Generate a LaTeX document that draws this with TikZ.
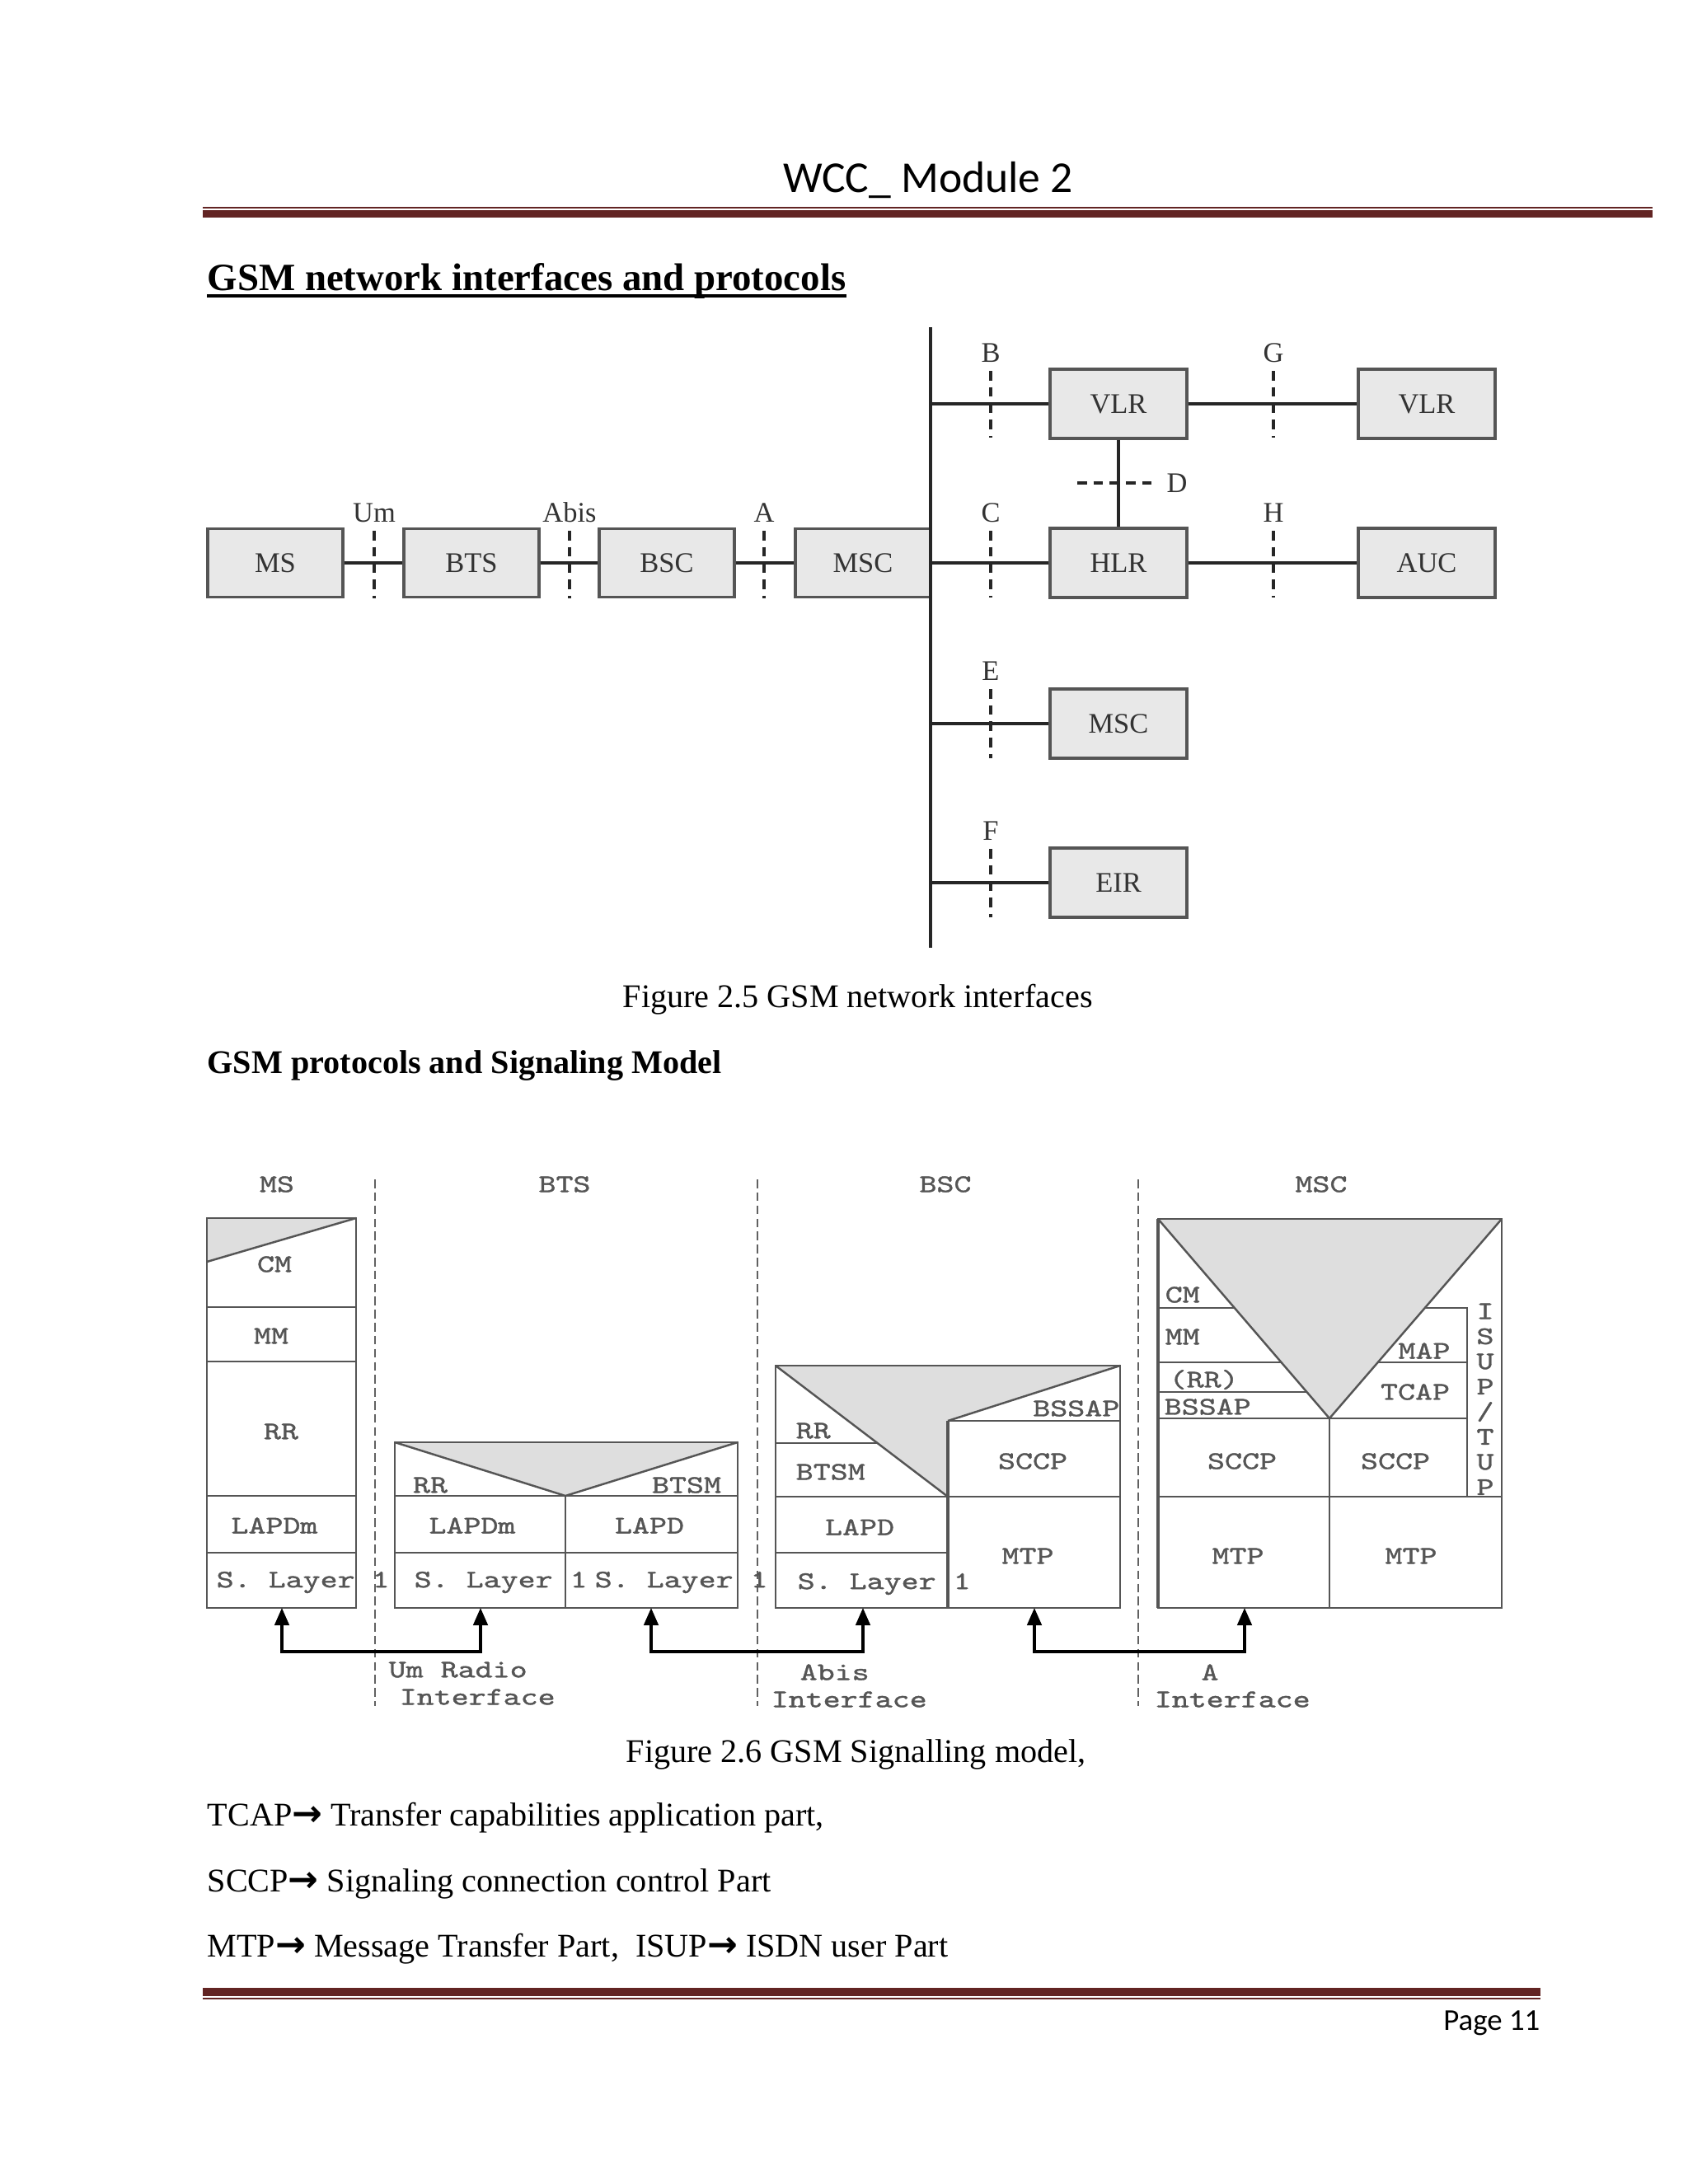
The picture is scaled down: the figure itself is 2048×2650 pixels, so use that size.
\documentclass[tikz,border=0pt]{standalone}
\usepackage{fontspec}
\setmainfont{Liberation Serif}
\newfontfamily\calib{Carlito}
\newfontfamily\arrowfont{DejaVu Sans}
\newfontfamily\sigfont[Extension=.otf,FakeStretch=1.3,FakeBold=1.2]{lmmono10-regular}
\usetikzlibrary{arrows.meta,calc}
\definecolor{rulered}{HTML}{622423}
\definecolor{boxfill}{HTML}{E8E8E8}
\definecolor{boxline}{HTML}{555555}
\definecolor{shadegray}{HTML}{DEDEDE}
\definecolor{siggray}{HTML}{555555}
\tikzset{
  netbox/.style={draw=boxline, fill=boxfill, line width=0.9pt, minimum width=1.64cm, minimum height=0.83cm, inner sep=0pt, font=\fontsize{9.8}{10}\selectfont, text=black!80},
  netboxw/.style={netbox, minimum width=1.66cm, minimum height=0.84cm},
  conn/.style={draw=black!85, line width=1.1pt},
  ifmark/.style={draw=black!85, line width=1.1pt, dash pattern=on 3.3pt off 2.3pt},
  iflabel/.style={font=\fontsize{9.8}{10}\selectfont, text=black!80, inner sep=0pt},
  sepline/.style={draw=black!62, line width=0.8pt, dash pattern=on 3pt off 1.5pt},
  stackline/.style={draw=siggray, line width=0.7pt},
  siglabel/.style={font=\sigfont\fontsize{8.75}{9}\selectfont, text=siggray, inner sep=0pt},
  sigarrow/.style={draw=black, line width=0.9pt, {Triangle[width=5pt,length=6pt]}-{Triangle[width=5pt,length=6pt]}},
  bodytext/.style={font=\fontsize{11.42}{13}\selectfont, inner sep=0pt, anchor=base west},
}
\newcommand{\rarr}{{\arrowfont\bfseries\fontsize{12.5}{12}\selectfont →}}
\begin{document}
\begin{tikzpicture}[x=0.01cm, y=-0.01cm]
\useasboundingbox (0,0) rectangle (2048,2650);
\fill[white] (0,0) rectangle (2048,2650);

% ---------- header ----------
\node[font=\calib\fontsize{15.23}{17}\selectfont, inner sep=0pt, anchor=base] (hdr) at (1126,233) {WCC\_ Module 2};
\fill[rulered] (246,250.5) rectangle (2005,252.5);
\fill[rulered] (246,255) rectangle (2005,264);

% ---------- heading ----------
\node[font=\bfseries\fontsize{13.32}{15}\selectfont, inner sep=0pt, anchor=base west] (h1) at (251,352) {GSM network interfaces and protocols};
\draw[line width=0.95pt] ($(h1.base west)+(0,7)$) -- ($(h1.base east)+(0,7)$);

% ---------- Figure 2.5 ----------
\node[netbox] (ms) at (334,683) {MS};
\node[netbox] (bts) at (572,683) {BTS};
\node[netbox] (bsc) at (809,683) {BSC};
\node[netbox] (msc) at (1047,683) {MSC};
\node[netboxw] (vlr) at (1357,490) {VLR};
\node[netboxw] (vlr2) at (1731,490) {VLR};
\node[netboxw] (hlr) at (1357,683) {HLR};
\node[netboxw] (auc) at (1731,683) {AUC};
\node[netboxw] (msc2) at (1357,878) {MSC};
\node[netboxw] (eir) at (1357,1071) {EIR};

\coordinate (bustop) at (1129,397);
\coordinate (busbot) at (1129,1150);
\draw[conn] (bustop) -- (busbot);

\draw[conn] (ms.east) -- (bts.west);
\draw[conn] (bts.east) -- (bsc.west);
\draw[conn] (bsc.east) -- (msc.west);
\draw[conn] (vlr.west) -- (vlr.west -| bustop);
\draw[conn] (hlr.west) -- (hlr.west -| bustop);
\draw[conn] (msc2.west) -- (msc2.west -| bustop);
\draw[conn] (eir.west) -- (eir.west -| bustop);
\draw[conn] (vlr.east) -- (vlr2.west);
\draw[conn] (hlr.east) -- (auc.west);
\draw[conn] (vlr.south) -- (hlr.north);

% interface marks
\foreach \nm/\lab/\x/\ya/\yb in {um/Um/454/644/726, abis/Abis/691/644/726, ai/A/927/644/726,
  ib/B/1202/450/531, ig/G/1545/450/531, ic/C/1202/644/725, ih/H/1545/644/725,
  ie/E/1202/836/920, iff/F/1202/1030/1113}{
  \draw[ifmark] (\x,\ya) -- (\x,\yb);
  \node[iflabel] (\nm) at (\x,\ya-22) {\lab};
}
\draw[ifmark] (1307,586) -- (1404,586);
\node[iflabel] (id) at (1428,586) {D};

\node[bodytext] (cap1) at (755,1222) {Figure 2.5 GSM network interfaces};
\node[bodytext, font=\bfseries\fontsize{11.42}{13}\selectfont] (h2) at (251,1302) {GSM protocols and Signaling Model};

% ---------- Figure 2.6 ----------
\draw[sepline] (455,1431) -- (455,2070);
\draw[sepline] (919,1431) -- (919,2070);
\draw[sepline] (1381,1431) -- (1381,2070);

\node[siglabel] (tms) at (336,1437) {MS};
\node[siglabel] (tbts) at (685,1437) {BTS};
\node[siglabel] (tbsc) at (1147,1437) {BSC};
\node[siglabel] (tmsc) at (1603,1437) {MSC};

% MS stack
\fill[shadegray] (251,1478) -- (432,1478) -- (251,1531) -- cycle;
\draw[stackline] (251,1531) -- (432,1478);
\draw[stackline] (251,1478) rectangle (432,1951);
\draw[stackline] (251,1586) -- (432,1586);
\draw[stackline] (251,1652) -- (432,1652);
\draw[stackline] (251,1815) -- (432,1815);
\draw[stackline] (251,1884) -- (432,1884);
\node[siglabel] (mscm) at (333,1534) {CM};
\node[siglabel] (msmm) at (329,1621) {MM};
\node[siglabel] (msrr) at (341,1737) {RR};
\node[siglabel] (mslapdm) at (333,1851) {LAPDm};
\node[siglabel, anchor=west] (msl1) at (262,1920) {S. Layer 1};

% BTS stack
\fill[shadegray] (479,1750) -- (895,1750) -- (686,1815) -- cycle;
\draw[stackline] (479,1750) -- (686,1815) -- (895,1750);
\draw[stackline] (479,1750) rectangle (895,1951);
\draw[stackline] (479,1815) -- (895,1815);
\draw[stackline] (686,1815) -- (686,1951);
\draw[stackline] (479,1884) -- (895,1884);
\node[siglabel] (btsrr) at (522,1802) {RR};
\node[siglabel] (btsbtsm) at (833,1802) {BTSM};
\node[siglabel] (btslapdm) at (573,1851) {LAPDm};
\node[siglabel] (btslapd) at (788,1851) {LAPD};
\node[siglabel, anchor=west] (btsl1a) at (502,1920) {S. Layer 1};
\node[siglabel, anchor=west] (btsl1b) at (721,1920) {S. Layer 1};

% BSC stack
\fill[shadegray] (941,1657) -- (1359,1657) -- (1150,1724) -- (1150,1816) -- cycle;
\draw[stackline] (941,1657) -- (1150,1816);
\draw[stackline] (1150,1724) -- (1359,1657);
\draw[stackline] (941,1657) rectangle (1359,1951);
\draw[stackline] (1150,1724) -- (1359,1724);
\draw[stackline] (941,1751) -- (1064,1751);
\draw[stackline] (941,1816) -- (1359,1816);
\draw[stackline] (941,1884) -- (1150,1884);
\draw[stackline, line width=1.1pt] (1150,1724) -- (1150,1951);
\node[siglabel, anchor=east] (bscbssap) at (1359,1709) {BSSAP};
\node[siglabel, anchor=west] (bscrr) at (965,1736) {RR};
\node[siglabel, anchor=west] (bscbtsm) at (965,1786) {BTSM};
\node[siglabel] (bscsccp) at (1253,1773) {SCCP};
\node[siglabel] (bsclapd) at (1043,1853) {LAPD};
\node[siglabel, anchor=west] (bscl1) at (967,1922) {S. Layer 1};
\node[siglabel] (bscmtp) at (1247,1888) {MTP};

% MSC stack
\fill[shadegray] (1405,1479) -- (1822,1479) -- (1613,1721) -- cycle;
\draw[stackline] (1405,1479) -- (1613,1721) -- (1822,1479);
\draw[stackline] (1405,1479) rectangle (1822,1951);
\draw[stackline, line width=1.1pt] (1405,1479) -- (1405,1951);
\draw[stackline] (1405,1587) -- (1498,1587);
\draw[stackline] (1405,1653) -- (1555,1653);
\draw[stackline] (1405,1689) -- (1585,1689);
\draw[stackline] (1405,1721) -- (1780,1721);
\draw[stackline] (1729,1587) -- (1780,1587) -- (1780,1816);
\draw[stackline] (1672,1653) -- (1780,1653);
\draw[stackline] (1613,1721) -- (1613,1951);
\draw[stackline] (1405,1816) -- (1822,1816);
\node[siglabel, anchor=west] (msccm) at (1413,1571) {CM};
\node[siglabel, anchor=west] (mscmm) at (1413,1622) {MM};
\node[siglabel, anchor=west] (mscrr) at (1418,1674) {(RR)};
\node[siglabel, anchor=west] (mscbssap) at (1412,1707) {BSSAP};
\node[siglabel] (mscmap) at (1728,1639) {MAP};
\node[siglabel] (msctcap) at (1717,1689) {TCAP};
\node[siglabel] (mscsccpa) at (1507,1773) {SCCP};
\node[siglabel] (mscsccpb) at (1693,1773) {SCCP};
\node[siglabel] (mscmtpa) at (1502,1888) {MTP};
\node[siglabel] (mscmtpb) at (1712,1888) {MTP};
\foreach \ch [count=\i from 0] in {I,S,U,P,/,T,U,P}{
  \node[siglabel] (isup\i) at (1802,1591+\i*30.5) {\ch};
}

% arrows between stacks
\coordinate (lvl) at (0,2004);
\coordinate (aMS) at (342,1951);
\coordinate (aBTSl) at (583,1951);
\coordinate (aBTSr) at (790,1951);
\coordinate (aBSCl) at (1047,1951);
\coordinate (aBSCr) at (1255,1951);
\coordinate (aMSC) at (1510,1951);
\draw[sigarrow] (aMS) -- (aMS |- lvl) -- (aBTSl |- lvl) -- (aBTSl);
\draw[sigarrow] (aBTSr) -- (aBTSr |- lvl) -- (aBSCl |- lvl) -- (aBSCl);
\draw[sigarrow] (aBSCr) -- (aBSCr |- lvl) -- (aMSC |- lvl) -- (aMSC);

\node[siglabel, anchor=west] (umr) at (471,2026) {Um Radio};
\node[siglabel, anchor=west] (umi) at (484,2059) {Interface};
\node[siglabel, anchor=west] (abr) at (970,2029) {Abis};
\node[siglabel, anchor=west] (abi) at (935,2062) {Interface};
\node[siglabel] (ar) at (1468,2029) {A};
\node[siglabel, anchor=west] (ai2) at (1400,2062) {Interface};

\node[bodytext] (cap2) at (759,2138) {Figure 2.6 GSM Signalling model,};

% ---------- abbreviations ----------
\node[bodytext] (l1) at (251,2215) {TCAP\rarr\ Transfer capabilities application part,};
\node[bodytext] (l2) at (251,2295) {SCCP\rarr\ Signaling connection control Part};
\node[bodytext] (l3) at (251,2374) {MTP\rarr\ Message Transfer Part,\ \ ISUP\rarr\ ISDN user Part};

% ---------- footer ----------
\fill[rulered] (246,2412) rectangle (1869,2422);
\fill[rulered] (246,2423.5) rectangle (1869,2425.5);
\node[font=\calib\fontsize{10.47}{12}\selectfont, inner sep=0pt, anchor=base east] (pg) at (1869,2463) {Page 11};
\end{tikzpicture}
\end{document}
